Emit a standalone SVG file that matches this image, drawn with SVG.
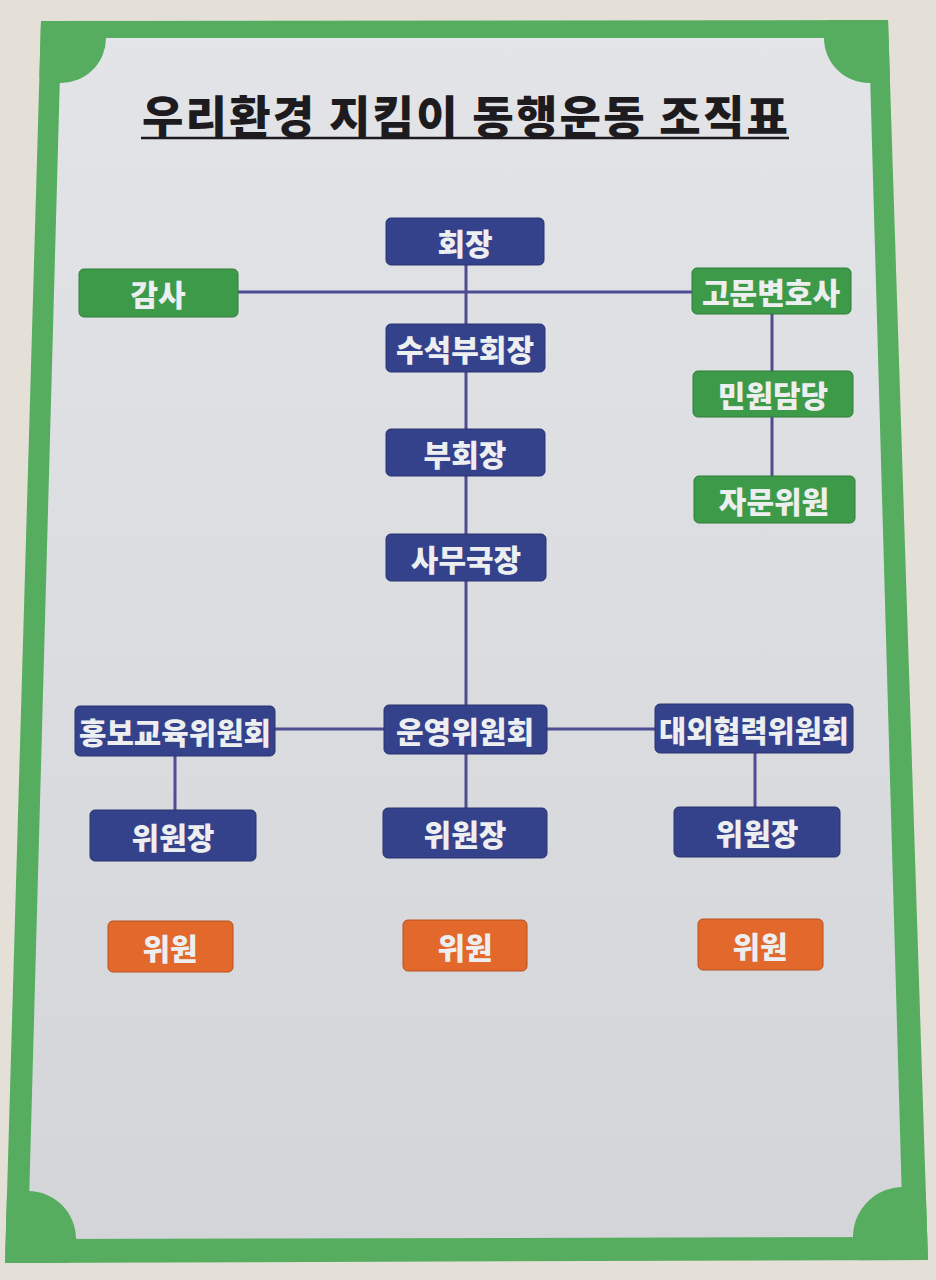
<svg xmlns="http://www.w3.org/2000/svg" width="936" height="1280" viewBox="0 0 936 1280">
<style>
.nb{fill:#34418b;stroke:#2a3470;stroke-width:1}
.gb{fill:#3c9a48;stroke:#2f7d3a;stroke-width:1}
.ob{fill:#e2682b;stroke:#b8511f;stroke-width:1}
.t{font-family:"Noto Sans CJK KR","Noto Sans",sans-serif;font-weight:900;font-size:30px;fill:#eceef0;text-anchor:middle;dominant-baseline:central}
.ln{stroke:#4e4c92;stroke-width:3;fill:none}
</style>
<defs>
<clipPath id="outer"><polygon points="41,21 888,20 928,1260 5,1263"/></clipPath>
<linearGradient id="paper" x1="0" y1="0" x2="0" y2="1">
<stop offset="0" stop-color="#e2e4e8"/>
<stop offset="1" stop-color="#d3d5d9"/>
</linearGradient>
</defs>
<rect width="936" height="1280" fill="#e4e0d8"/>
<g id="frame">
<polygon points="41,21 888,20 928,1260 5,1263" fill="#56ad5f"/>
<polygon points="61,38 869,38 903,1237 28,1239" fill="url(#paper)"/>
<g clip-path="url(#outer)" fill="#56ad5f">
<circle cx="61" cy="38" r="45"/>
<circle cx="869" cy="38" r="45"/>
<circle cx="28" cy="1239" r="48"/>
<circle cx="903" cy="1237" r="50"/>
</g>
</g>
<g id="title">
<text x="465" y="134" font-family="'Noto Sans CJK KR','Noto Sans',sans-serif" font-weight="900" font-size="45" fill="#1e1b1f" text-anchor="middle" textLength="646" lengthAdjust="spacing">우리환경 지킴이 동행운동 조직표</text>
<line x1="141" y1="138" x2="789" y2="138" stroke="#1e1b1f" stroke-width="2.5"/>
</g>
<g id="connectors">
<line class="ln" x1="466" y1="265" x2="466" y2="808"/>
<line class="ln" x1="238" y1="292" x2="692" y2="292"/>
<line class="ln" x1="772" y1="314" x2="772" y2="476"/>
<line class="ln" x1="275" y1="729" x2="655" y2="729"/>
<line class="ln" x1="175" y1="756" x2="175" y2="810"/>
<line class="ln" x1="755" y1="753" x2="755" y2="807"/>
</g>
<g id="n-hoejang"><rect class="nb" x="386" y="218" width="158" height="47" rx="5"/><text class="t" x="465" y="242">회장</text></g>
<g id="n-gamsa"><rect class="gb" x="79" y="269" width="159" height="48" rx="5"/><text class="t" x="158" y="293">감사</text></g>
<g id="n-gomun"><rect class="gb" x="692" y="268" width="159" height="46" rx="5"/><text class="t" x="771" y="291">고문변호사</text></g>
<g id="n-suseok"><rect class="nb" x="386" y="324" width="159" height="48" rx="5"/><text class="t" x="465" y="348">수석부회장</text></g>
<g id="n-minwon"><rect class="gb" x="693" y="371" width="160" height="46" rx="5"/><text class="t" x="773" y="394">민원담당</text></g>
<g id="n-buhoejang"><rect class="nb" x="386" y="429" width="159" height="47" rx="5"/><text class="t" x="465" y="453">부회장</text></g>
<g id="n-jamun"><rect class="gb" x="694" y="476" width="161" height="47" rx="5"/><text class="t" x="774" y="500">자문위원</text></g>
<g id="n-samu"><rect class="nb" x="386" y="534" width="160" height="47" rx="5"/><text class="t" x="466" y="558">사무국장</text></g>
<g id="n-hongbo"><rect class="nb" x="75" y="706" width="200" height="50" rx="5"/><text class="t" x="175" y="731" textLength="192" lengthAdjust="spacingAndGlyphs">홍보교육위원회</text></g>
<g id="n-unyeong"><rect class="nb" x="384" y="705" width="163" height="49" rx="5"/><text class="t" x="465" y="730">운영위원회</text></g>
<g id="n-daeoe"><rect class="nb" x="655" y="704" width="198" height="49" rx="5"/><text class="t" x="754" y="729" textLength="190" lengthAdjust="spacingAndGlyphs">대외협력위원회</text></g>
<g id="n-chair-l"><rect class="nb" x="90" y="810" width="166" height="51" rx="5"/><text class="t" x="173" y="836">위원장</text></g>
<g id="n-chair-m"><rect class="nb" x="383" y="808" width="164" height="50" rx="5"/><text class="t" x="465" y="833">위원장</text></g>
<g id="n-chair-r"><rect class="nb" x="674" y="807" width="166" height="50" rx="5"/><text class="t" x="757" y="832">위원장</text></g>
<g id="n-mem-l"><rect class="ob" x="108" y="921" width="125" height="51" rx="5"/><text class="t" x="170" y="947">위원</text></g>
<g id="n-mem-m"><rect class="ob" x="403" y="920" width="124" height="51" rx="5"/><text class="t" x="465" y="946">위원</text></g>
<g id="n-mem-r"><rect class="ob" x="698" y="919" width="125" height="51" rx="5"/><text class="t" x="760" y="945">위원</text></g>
</svg>
